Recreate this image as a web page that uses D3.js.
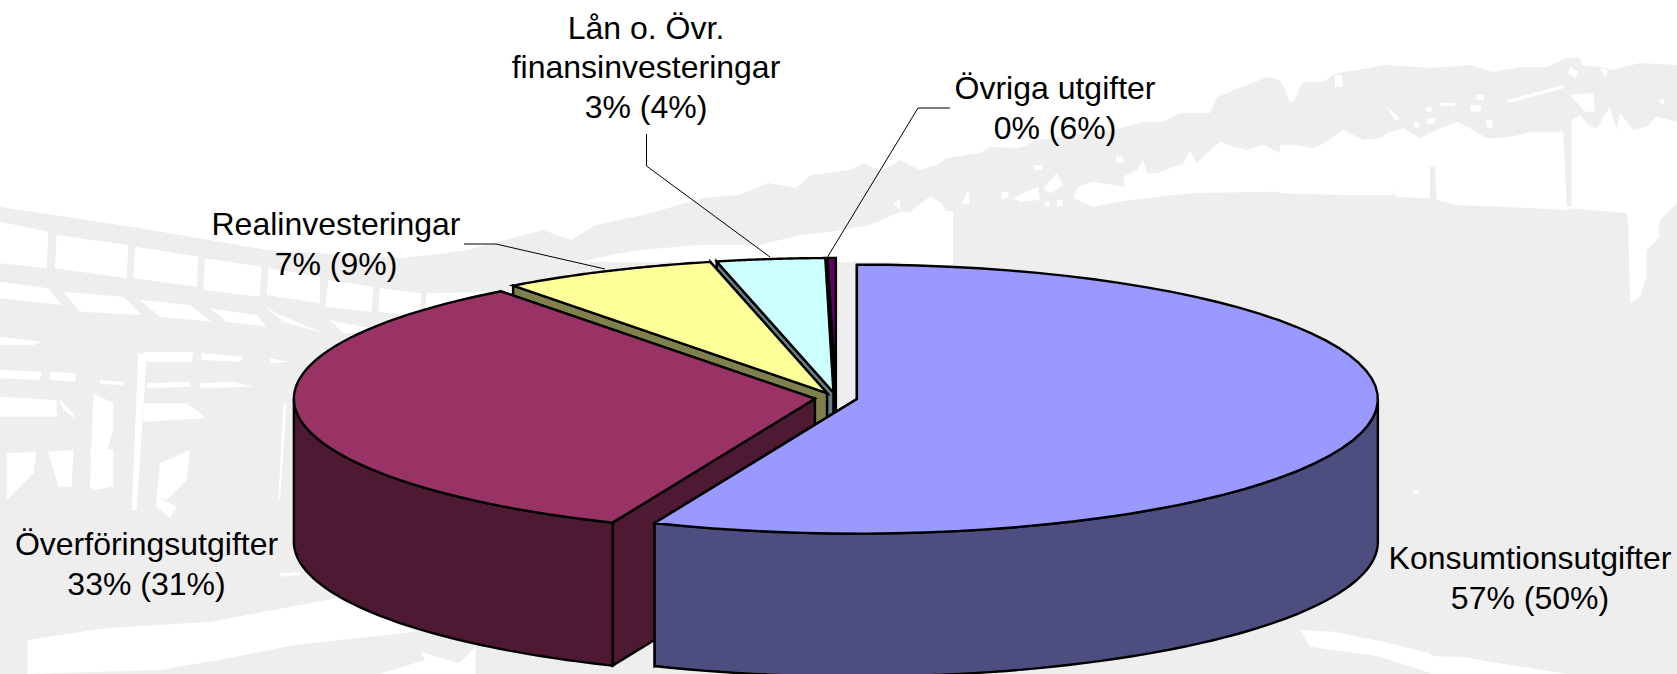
<!DOCTYPE html>
<html><head><meta charset="utf-8">
<script src="https://cdn.jsdelivr.net/npm/d3@7"></script>
<style>html,body{margin:0;padding:0;background:#fff;overflow:hidden}svg{display:block}</style>
</head><body><div id="chart"></div>
<script>
// ---- data ----
const categories = ["Konsumtionsutgifter","Överföringsutgifter","Realinvesteringar","Lån o. Övr. finansinvesteringar","Övriga utgifter"];
const drawnShares = [56.4, 33.4, 6.7, 3.35, 0.25];      // slice sizes (%)
const labelShares = ["57% (50%)","33% (31%)","7% (9%)","3% (4%)","0% (6%)"];
const topColors  = ["#9999FF","#993366","#FFFF99","#CCFFFF","#660066"];
const sideColors = ["#4D4D80","#4D1933","#80804D","#668080","#330033"];

// ---- layout ----
const W=1677,H=674,CX=836,CY=398,RX=521,RY=134.5,DEPTH=143,EXPLODE=21.3;
const labelLines = [
 {x:1530,y:[569,609],t:["Konsumtionsutgifter"]},
 {x:146.5,y:[555,595],t:["Överföringsutgifter"]},
 {x:336,y:[235,275],t:["Realinvesteringar"]},
 {x:646,y:[38.5,78,118],t:["Lån o. Övr.","finansinvesteringar"]},
 {x:1055,y:[99,139],t:["Övriga utgifter"]}
];
const leaders = [null,null,
 [[464,244],[496,244],[605,269]],
 [[646.5,134],[646.5,166],[770,257]],
 [[950,108],[918,108],[827.5,257]]
];

const svg=d3.select("#chart").append("svg").attr("width",W).attr("height",H).attr("viewBox",`0 0 ${W} ${H}`);

// ---- faded photo backdrop ----
const bg=svg.append("g");
const poly=d3.line().curve(d3.curveLinear);
const z1=p=>[880+p[0]/3,110+p[1]/3];
const z2=p=>[1280+p[0]/3,50+p[1]/3];
const z3=p=>[p[0]/3,180+p[1]/3];
const z4=p=>[900+p[0]*777/1568,30+p[1]/3];
const z5=p=>[1300+p[0]/3,230+p[1]/3];
const z8=p=>[p[0]*660/1568,560+p[1]/3];
const skyline=[[0,207],[133,227],[267,250],[400,258],[440,254],[468,250],[505,240],[543,230],[571,240],[596,225],[643,215],[704,198],[739,195],[768,183],[796,188],[811,175],[850,170],[864,163],[880,172],[900,160],[920,170],[937,165],[947,158],[980,153],[990,147],[1020,148],[1037,140],[1113,130],[1143,122],[1163,122],[1180,113],[1210,113],[1217,97],[1267,77],[1280,80],[1287,93],[1293,102],[1303,82],[1323,82],[1333,75],[1343,72],[1387,65],[1430,68],[1470,65],[1493,72],[1520,67],[1547,67],[1567,58],[1580,58],[1582,65],[1600,67],[1613,70],[1640,63],[1677,65],[1677,674],[0,674]];
bg.append("path").attr("d",poly(skyline)+"Z").attr("fill","#EEEEEE");
const holes=[
 // tree line and building, top right
 [[0,285],[50,285],[100,295],[130,280],[190,240],[250,270],[300,265],[330,245],[370,235],[420,265],[480,235],[530,215],[570,235],[620,265],[660,265],[720,255],[750,245],[850,245],[860,470],[875,470],[875,210],[900,195],[925,225],[950,235],[990,170],[1010,240],[1020,190],[1060,240],[1100,230],[1130,200],[1191,215],[1191,460],[1140,510],[1130,570],[1050,570],[1040,490],[875,475],[860,480],[660,470],[530,465],[470,450],[465,350],[450,350],[450,445],[345,440],[340,410],[340,435],[200,435],[0,430]].map(z2),
 [[580,265],[595,228],[640,215],[700,225],[735,230],[730,200],[770,180],[790,150],[800,190],[830,190],[870,175],[910,160],[930,120],[950,160],[985,125],[1020,95],[1060,110],[1100,120],[1150,105],[1200,130],[1200,245],[1000,248],[930,250],[800,265],[750,270],[640,290]].map(z1),
 [[400,265],[450,240],[475,230],[480,270],[420,275]].map(z1),
 [[490,235],[530,190],[550,225],[510,250]].map(z1),
 [[245,280],[265,240],[268,285]].map(z1),
 [[365,245],[385,245],[385,265],[365,265]].map(z1),
 [[495,275],[510,275],[510,290],[495,290]].map(z1),
 [[530,270],[548,270],[548,288],[530,288]].map(z1),
 [[462,165],[488,165],[488,180],[462,180]].map(z1),
 [[708,140],[730,140],[730,158],[708,158]].map(z1),
 [[95,300],[150,260],[185,280],[210,330],[95,330]].map(z1),
 [[40,280],[60,265],[60,300]].map(z1),
 // white spots in the trees, right
 [[680,150],[850,105],[850,115],[690,158]].map(z2),
 [[165,75],[185,75],[190,110],[165,110]].map(z2),
 [[20,130],[45,150],[30,160]].map(z2),
 [[870,50],[895,65],[885,85],[865,70]].map(z2),
 [[960,55],[985,60],[975,85]].map(z2),
 [[320,170],[360,205],[345,210]].map(z2),
 [[480,158],[525,158],[525,168],[480,168]].map(z2),
 [[570,165],[605,165],[600,185],[575,185]].map(z2),
 [[590,135],[612,135],[612,150],[590,150]].map(z2),
 [[438,172],[455,172],[455,185],[438,185]].map(z2),
 [[402,215],[418,215],[418,232],[402,232]].map(z2),
 [[442,205],[464,205],[464,222],[442,222]].map(z2),
 [[618,208],[640,212],[635,235],[620,232]].map(z2),
 [[1135,150],[1155,148],[1150,165]].map(z2),
 [[870,135],[940,130],[945,185],[915,185]].map(z2),
 [[985,0],[1075,0],[1080,20],[1040,60],[1040,140],[1020,200],[990,220]].map(z5),
 [[0,1200],[100,1205],[250,1235],[390,1270],[400,1285],[250,1280],[100,1260],[30,1250]].map(z5),
 [[220,1275],[480,1280],[800,1332],[400,1332],[300,1300]].map(z5),
 [[340,780],[355,780],[355,792],[340,792]].map(z5),
 // white under the tree line, above the pie
 [[0,570],[30,540],[60,505],[100,550],[108,760],[0,760]].map(z4),
 [[580,262],[610,255],[640,250],[700,245],[760,245],[800,235],[830,232],[870,225],[900,212],[953,211],[953,262],[580,262]],
 // windows, left
 ...[[[0,125],[145,155],[140,265],[0,250]],[[170,165],[385,195],[380,295],[165,265]],[[405,200],[595,230],[590,320],[400,295]],
 [[615,235],[785,260],[780,350],[610,330]],[[805,265],[960,290],[960,370],[800,345]],[[985,300],[1120,320],[1115,395],[975,380]],
 [[1140,325],[1265,340],[1260,410],[1135,395]],[[1280,340],[1500,335],[1500,440],[1275,410]],
 [[0,305],[145,325],[185,375],[0,355]],[[190,335],[370,350],[425,405],[240,395]],[[420,360],[570,375],[635,425],[480,410]],
 [[630,385],[770,405],[800,440],[680,425]],[[790,375],[830,400],[970,460],[850,425]],[[990,420],[1090,440],[1180,455],[1030,460]],
 [[0,470],[125,485],[100,495],[0,495]],[[0,570],[125,575],[120,600],[0,595]],[[150,575],[230,580],[225,605],[150,600]],
 [[430,515],[580,515],[575,545],[440,545]],[[415,520],[440,520],[410,990],[395,990]],[[605,520],[730,530],[720,545],[605,540]],
 [[810,535],[870,545],[810,550]],[[440,610],[570,605],[570,620],[440,625]],[[600,610],[700,605],[760,620],[600,625]],[[300,600],[370,605],[370,615],[300,612]],
 [[0,650],[170,660],[170,710],[0,710]],[[175,655],[220,700],[225,715],[190,690]],[[280,640],[340,670],[340,745],[290,925],[270,925]],
 [[430,670],[560,670],[620,715],[430,725]],[[850,670],[860,670],[840,960],[835,960]],
 [[20,820],[110,815],[100,880],[20,960]],[[145,815],[220,810],[215,920],[175,920]],[[270,800],[340,810],[340,920],[280,930]],
 [[480,850],[570,810],[560,900],[500,960],[470,950]],[[470,950],[530,980],[510,1015],[470,980]],[[840,1180],[900,1175],[900,1185],[840,1190]]
 ].map(h=>h.map(z3)),
 [[65,240],[250,205],[500,185],[800,115],[990,215],[700,255],[520,300],[380,330],[65,342]].map(z8),
 [[1000,275],[1010,300],[900,342],[1130,342],[1130,260],[1090,310]].map(z8)
];
bg.selectAll("path.hole").data(holes).join("path").attr("class","hole").attr("d",d=>poly(d)+"Z").attr("fill","#fff");

// ---- pie geometry ----
const arcs=d3.pie().sort(null).value(d=>d)(drawnShares);
const slices=arcs.map((a,i)=>{
  const mid=(a.startAngle+a.endAngle)/2;
  return {i,a0:a.startAngle,a1:a.endAngle,cx:CX+EXPLODE*Math.sin(mid),cy:CY-EXPLODE*RY/RX*Math.cos(mid)};
});
const rim=(s,t,dy=0)=>[s.cx+RX*Math.sin(t),s.cy-RY*Math.cos(t)+dy];
const sample=(a0,a1)=>d3.range(0,61).map(k=>a0+(a1-a0)*k/60);
const stroke={stroke:"#000","stroke-width":2.4,"stroke-linejoin":"miter"};
const g=svg.append("g");
function draw(d,fill){const p=g.append("path").attr("d",d).attr("fill",fill);for(const k in stroke)p.attr(k,stroke[k]);}
const face=(s,t)=>poly([[s.cx,s.cy],rim(s,t),rim(s,t,DEPTH),[s.cx,s.cy+DEPTH]])+"Z";

// back slices first, front slices last
[4,3,2,1,0].forEach(i=>{
  const s=slices[i];
  draw(face(s,s.a1),sideColors[i]);
  draw(face(s,s.a0),sideColors[i]);
  const w0=Math.max(s.a0,Math.PI/2),w1=Math.min(s.a1,3*Math.PI/2);
  if(w1>w0){
    const ts=sample(w0,w1);
    draw(poly(ts.map(t=>rim(s,t)).concat(ts.slice().reverse().map(t=>rim(s,t,DEPTH))))+"Z",sideColors[i]);
  }
  draw(poly([[s.cx,s.cy]].concat(sample(s.a0,s.a1).map(t=>rim(s,t))))+"Z",topColors[i]);
});

// ---- leaders ----
svg.append("g").selectAll("path").data(leaders.filter(Boolean)).join("path")
  .attr("d",d=>poly(d)).attr("fill","none").attr("stroke","#000").attr("stroke-width",1);

// ---- labels ----
const tg=svg.append("g").attr("font-family","'Liberation Sans',Arial,sans-serif").attr("font-size",32).attr("fill","#000").attr("text-anchor","middle");
labelLines.forEach((l,i)=>{
  l.t.concat([labelShares[i]]).forEach((txt,j)=>{
    tg.append("text").attr("x",l.x).attr("y",l.y[j]).text(txt);
  });
});
</script></body></html>
